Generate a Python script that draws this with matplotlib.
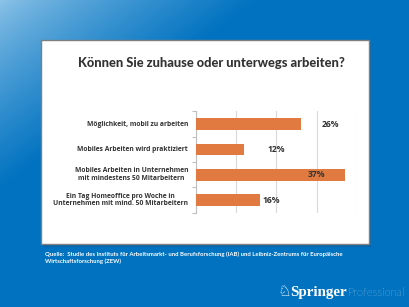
import numpy as np
import matplotlib
matplotlib.use("Agg")
import matplotlib.pyplot as plt
from matplotlib.patches import Rectangle

# ---- data ----
categories = [
    "Möglichkeit, mobil zu arbeiten",
    "Mobiles Arbeiten wird praktiziert",
    "Mobiles Arbeiten in Unternehmen\nmit mindestens 50 Mitarbeitern",
    "Ein Tag Homeoffice pro Woche in\nUnternehmen mit mind. 50 Mitarbeitern",
]
values = [26, 12, 37, 16]
value_labels = ["26%", "12%", "37%", "16%"]
label_x = [33.3, 20.1, 30.0, 18.7]  # where the value labels sit (layout)
x_ticks = [0, 10, 20, 30, 40]

title = "Können Sie zuhause oder unterwegs arbeiten?"
source = ("Quelle:  Studie des Instituts für Arbeitsmarkt- und Berufsforschung (IAB) und Leibniz-Zentrums für Europäische\n"
          "Wirtschaftsforschung (ZEW)")

W, H = 410, 307
fig = plt.figure(figsize=(W / 100, H / 100), dpi=100)

# ---- background gradient ----
bg = fig.add_axes([0, 0, 1, 1])
bg.set_axis_off()
xx, yy = np.meshgrid(np.linspace(0, W, W), np.linspace(0, H, H))
t = np.clip(xx / 260 + yy / 190, 0, 1) ** 0.8
light = np.array([142, 196, 232]) / 255
blue = np.array([0, 114, 192]) / 255
img = light[None, None, :] * (1 - t[..., None]) + blue[None, None, :] * t[..., None]
bg.imshow(img, extent=[0, W, H, 0], aspect="auto", interpolation="bilinear")
bg.set_xlim(0, W)
bg.set_ylim(H, 0)

# panel shadow + panel
bg.add_patch(Rectangle((43, 42), 328, 205, facecolor="#1a4f80", alpha=0.35, edgecolor="none", zorder=2))
bg.add_patch(Rectangle((41, 40), 328, 204, facecolor="white", edgecolor="#7f7f7f", linewidth=1.0, zorder=3))

font = "Lato"
dark = "#333333"

fig.text(0.516, 1 - 63 / H, title, ha="center", va="center", fontsize=9.3,
         fontweight="black", color=dark, family=font)

# ---- bar chart ----
ax = fig.add_axes([195.7 / W, 1 - 212.7 / H, (357 - 195.7) / W, (212.7 - 111.5) / H])
ypos = np.arange(len(categories))
ax.barh(ypos, values, height=0.46, color="#E07A40", zorder=3)
ax.set_xlim(x_ticks[0], x_ticks[-1])
ax.set_ylim(len(categories) - 0.5, -0.5)
ax.set_xticks(x_ticks)
ax.xaxis.grid(True, color="#d9d9d9", linewidth=0.8, zorder=0)
ax.set_xticklabels([])
ax.tick_params(axis="x", length=0)
for s in ["top", "right", "bottom"]:
    ax.spines[s].set_visible(False)
ax.spines["left"].set_color("#bfbfbf")
ax.spines["left"].set_linewidth(0.8)
ax.set_yticks(np.arange(len(categories) + 1) - 0.5)
ax.set_yticklabels([])
ax.tick_params(axis="y", length=3, width=0.8, color="#bfbfbf", direction="out")
ax.set_facecolor("none")

for i, (c, lab, lx) in enumerate(zip(categories, value_labels, label_x)):
    ax.text(-1.9, i, c, ha="right", va="center", multialignment="center",
            fontsize=4.85, fontweight="bold", color=dark, family="Open Sans", linespacing=1.15)
    ax.text(lx, i, lab, ha="center", va="center", fontsize=6.2,
            fontweight="bold", color=dark, family="Open Sans")

# ---- source ----
fig.text(45.5 / W, 1 - 257.5 / H, source, ha="left", va="center", fontsize=4.3,
         fontweight="bold", color="white", family=font, linespacing=1.3)

# ---- logo ----
fig.text(277 / W, 1 - 291 / H, "\u2658", ha="left", va="center", fontsize=11,
         color="white", family="DejaVu Sans")
fig.text(290 / W, 1 - 296 / H, "Springer", ha="left", va="baseline", fontsize=10.8,
         fontweight="bold", color="white", family="Liberation Serif")
fig.text(348 / W, 1 - 296 / H, "Professional", ha="left", va="baseline", fontsize=8.0,
         fontweight="light", color="white", family="Lato")

fig.savefig("out.png", dpi=100)
